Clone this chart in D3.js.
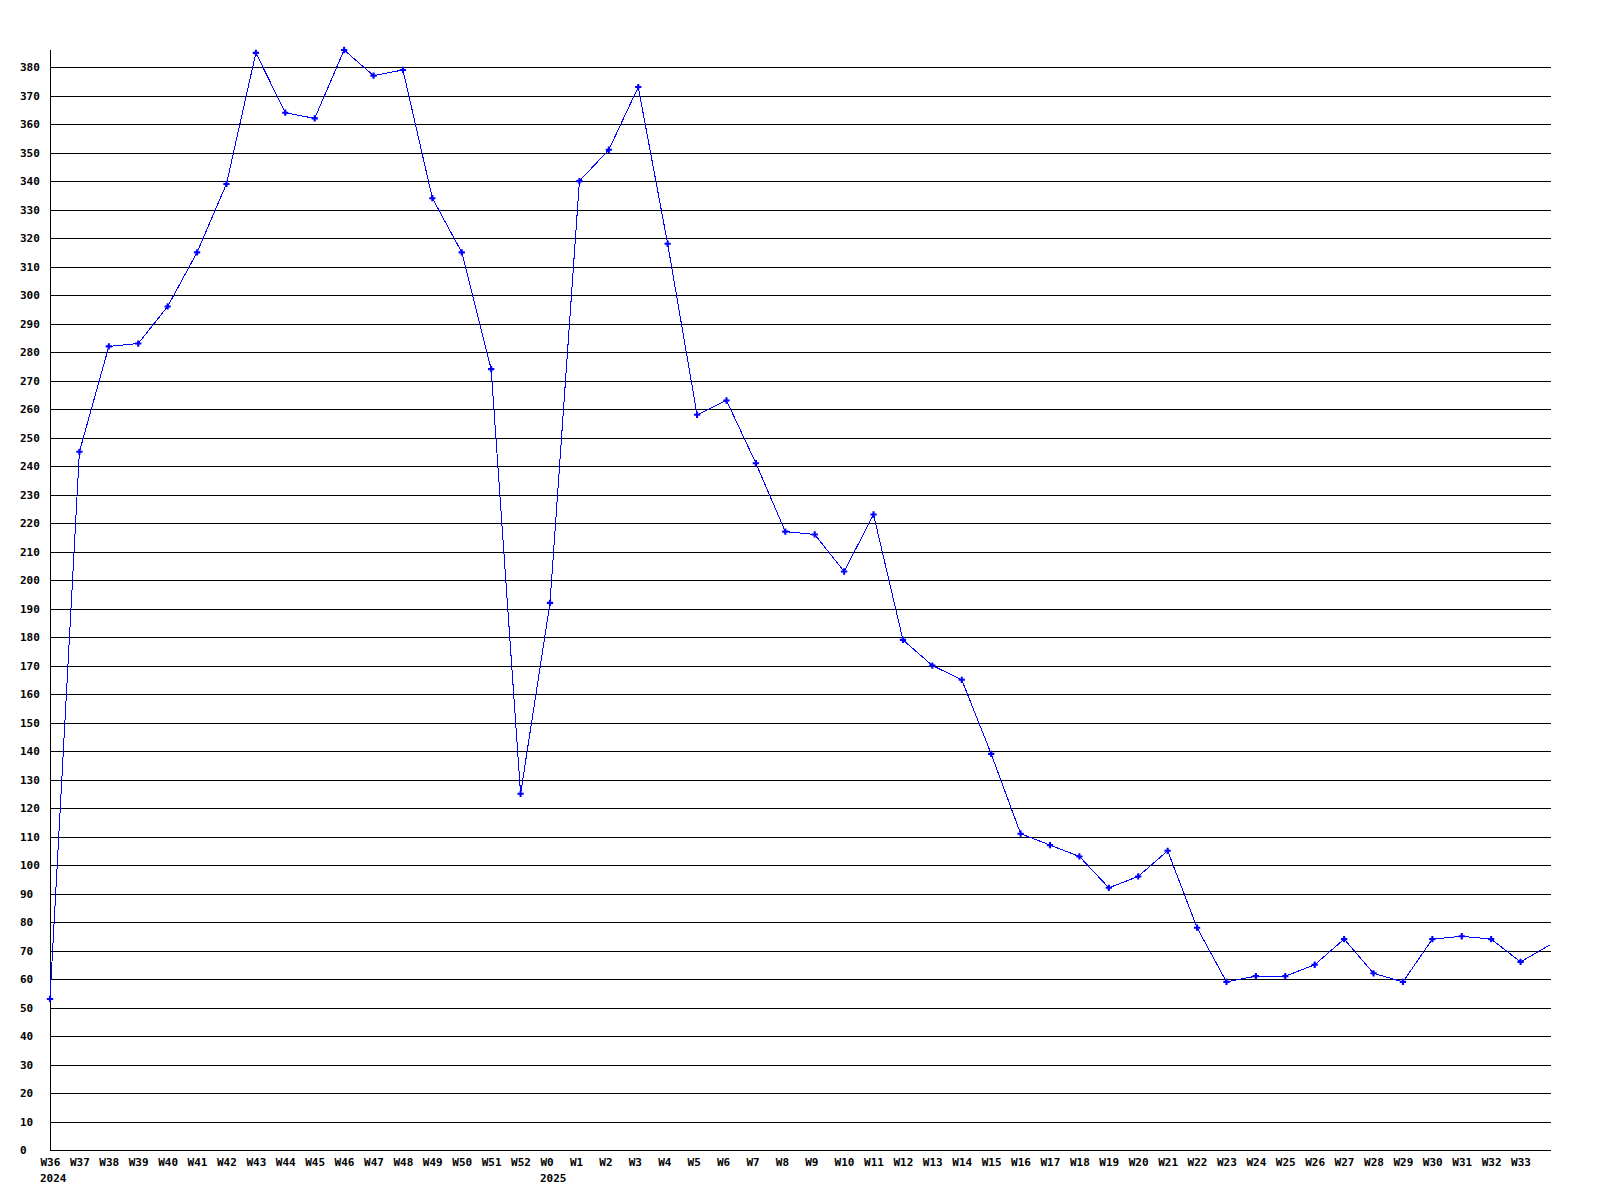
<!DOCTYPE html>
<html>
<head>
<meta charset="utf-8">
<script src="https://cdn.jsdelivr.net/npm/d3@7"></script>
<style>
  html, body { margin: 0; padding: 0; background: #ffffff; }
  svg { display: block; }
  text { font-family: "DejaVu Sans Mono", "Liberation Mono", monospace; font-weight: bold; font-size: 11px; fill: #000; }
</style>
</head>
<body>
<svg id="chart" width="1600" height="1200"></svg>
<script>
// ---- data ----
const weeks = ["W36","W37","W38","W39","W40","W41","W42","W43","W44","W45","W46","W47","W48","W49","W50","W51","W52",
               "W0","W1","W2","W3","W4","W5","W6","W7","W8","W9","W10","W11","W12","W13","W14","W15","W16","W17","W18",
               "W19","W20","W21","W22","W23","W24","W25","W26","W27","W28","W29","W30","W31","W32","W33","W34"];
const values = [53,245,282,283,296,315,339,385,364,362,386,377,379,334,315,274,125,
                192,340,351,373,318,258,263,241,217,216,203,223,179,170,165,139,111,107,103,
                92,96,105,78,59,61,61,65,74,62,59,74,75,74,66,72];
// weeks shown with a label and a marker (the last, partial week has neither)
const labeledWeeks = weeks.slice(0, weeks.length - 1);
const yearWeeks = ["W36","W0"];
const yearNames = ["2024","2025"];
const yTickValues = [0,10,20,30,40,50,60,70,80,90,100,110,120,130,140,150,160,170,180,190,
                     200,210,220,230,240,250,260,270,280,290,300,310,320,330,340,350,360,370,380];
const yMax = 386;

// ---- layout ----
const mLeft = 50, mRight = 1550, mTop = 50, mBottom = 1150;
const svg = d3.select("#chart");

const x = d3.scalePoint().domain(weeks).range([mLeft, mRight]);
const y = d3.scaleLinear().domain([0, yMax]).range([mBottom, mTop]);

// gridlines
const grid = svg.append("g")
  .attr("transform", `translate(${mLeft},0)`)
  .call(d3.axisRight(y).tickValues(yTickValues).tickSize(mRight - mLeft + 1).tickFormat(""));
grid.select(".domain").remove();
grid.selectAll(".tick line").attr("stroke", "#000").attr("shape-rendering", "crispEdges");

// y axis line
svg.append("line")
  .attr("x1", mLeft + 0.5).attr("x2", mLeft + 0.5)
  .attr("y1", mTop).attr("y2", mBottom + 1)
  .attr("stroke", "#000").attr("shape-rendering", "crispEdges");

// y tick labels
const yAxis = svg.append("g")
  .attr("transform", `translate(${mLeft},0)`)
  .call(d3.axisLeft(y).tickValues(yTickValues).tickSize(0).tickFormat(d3.format("d")));
yAxis.select(".domain").remove();
yAxis.attr("font-family", null).attr("font-size", null);
yAxis.selectAll(".tick text")
  .attr("text-anchor", "start")
  .attr("x", -30)
  .attr("dy", "0.35em");

// x tick labels
const xAxis = svg.append("g")
  .attr("transform", `translate(0,${mBottom})`)
  .call(d3.axisBottom(x).tickValues(labeledWeeks).tickSize(0));
xAxis.select(".domain").remove();
xAxis.attr("font-family", null).attr("font-size", null);
xAxis.selectAll(".tick text")
  .attr("text-anchor", "start")
  .attr("x", -10)
  .attr("y", 16)
  .attr("dy", null);

// year labels
svg.append("g").selectAll("text")
  .data(yearWeeks)
  .join("text")
  .attr("x", d => x(d) - 10)
  .attr("y", mBottom + 32)
  .text((d, i) => yearNames[i]);

// series line
const line = d3.line()
  .x((d, i) => x(weeks[i]))
  .y(d => y(d));
svg.append("path")
  .datum(values)
  .attr("d", line)
  .attr("fill", "none")
  .attr("stroke", "#0000ff")
  .attr("stroke-width", 1)
  .attr("shape-rendering", "crispEdges");

// markers
const marker = d3.symbol().type(d3.symbolCross).size(22);
svg.append("g").selectAll("path")
  .data(values.slice(0, labeledWeeks.length))
  .join("path")
  .attr("transform", (d, i) => `translate(${x(weeks[i])},${y(d)})`)
  .attr("d", marker)
  .attr("fill", "#0000ff");
</script>
</body>
</html>
